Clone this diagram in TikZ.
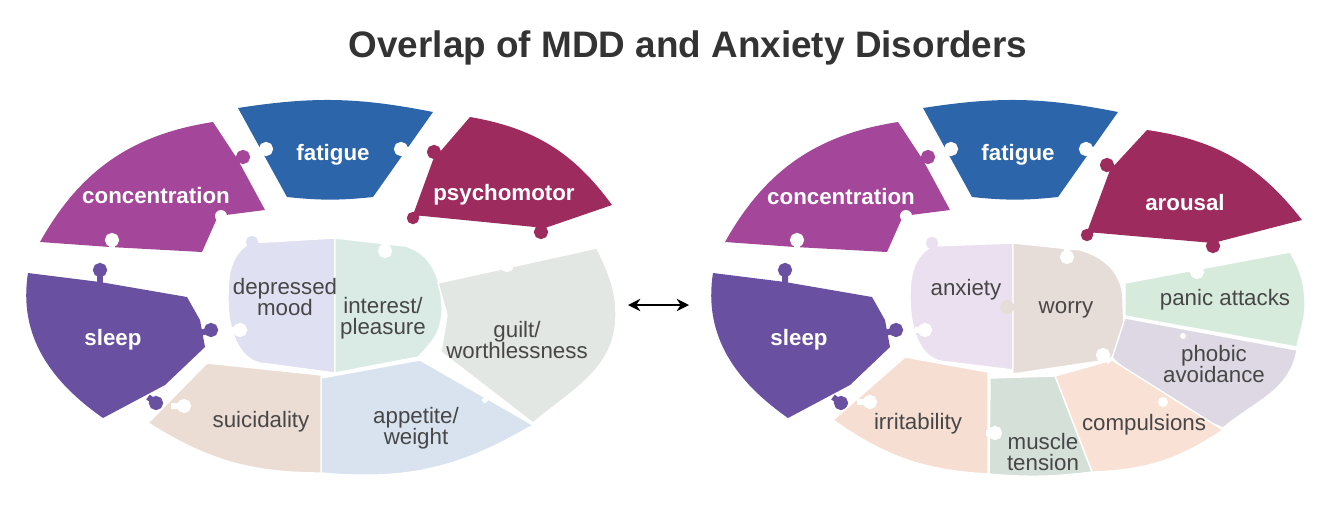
\documentclass[tikz,border=0pt]{standalone}
\usepackage{fontspec}
\setmainfont{Liberation Sans}
\usepackage{tikz}
\usetikzlibrary{arrows.meta}

\definecolor{conccol}{HTML}{A4479B}
\definecolor{fatcol}{HTML}{2C65A9}
\definecolor{psycol}{HTML}{9D2B5E}
\definecolor{sleepcol}{HTML}{6A50A1}
\definecolor{moodcol}{HTML}{DFE0F1}
\definecolor{intcol}{HTML}{DAEBE5}
\definecolor{guiltcol}{HTML}{E3E7E3}
\definecolor{suicol}{HTML}{EBDDD4}
\definecolor{appcol}{HTML}{D8E3EF}
\definecolor{anxcol}{HTML}{EBE0EF}
\definecolor{worrycol}{HTML}{E6DCD8}
\definecolor{paniccol}{HTML}{D7EBDD}
\definecolor{phobcol}{HTML}{DDD8E3}
\definecolor{irrcol}{HTML}{F6DED3}
\definecolor{musccol}{HTML}{D5E0D8}
\definecolor{compcol}{HTML}{F9E1D6}
\definecolor{labelgray}{HTML}{474747}
\definecolor{titlegray}{HTML}{333333}

\begin{document}
\begin{tikzpicture}[x=0.02cm, y=-0.02cm,
    outerlabel/.style={text=white, font=\fontsize{12.7}{13}\selectfont\bfseries},
    innerlabel/.style={text=labelgray, align=center, font=\fontsize{12.7}{12}\selectfont},
    innerpiece/.style={draw=white, line width=0.8pt},
    knob/.style={line width=3.4pt}]

    \useasboundingbox (0,0) rectangle (1334,515);

    % Title
    \node (title) at (688,48) [text=titlegray, font=\fontsize{21}{25}\selectfont\bfseries]
        {Overlap of MDD and Anxiety Disorders};

    % Outer pieces shared by both wheels
    \foreach \dx in {0,685} {
        \begin{scope}[shift={(\dx,0)}]
            \fill[conccol] (40,242) to[bend left=26] (213,122) -- (238,160) -- (265,210) -- (218,216) -- (202,252) -- (110,247) -- cycle;
            \fill[fatcol] (238,108) to[bend left=10] (433,112) -- (373,197) to[bend left=6] (287,197) -- cycle;
            \fill[sleepcol] (28,273) -- (100,282) -- (187,297) -- (200,320) -- (205,347) -- (165,385) -- (103,418) to[out=145, in=261] (28,273) -- cycle;
            % notches
            \fill[white] (221,216) circle[radius=6];
            \filldraw[white, knob] (112,250) -- (112,240) circle[radius=4];
            \filldraw[white, knob] (259,151) -- (266,149) circle[radius=4];
            \filldraw[white, knob] (410,150) -- (401,149) circle[radius=4];
            % tabs
            \filldraw[conccol, knob] (235,160) -- (243,157) circle[radius=4];
            \filldraw[sleepcol, knob] (100,285) -- (100,270) circle[radius=4];
            \filldraw[sleepcol, knob] (200,333) -- (211,330) circle[radius=4];
            \filldraw[sleepcol, knob] (148,397) -- (156,403) circle[radius=4];
        \end{scope}
    }

    % Left wheel: psychomotor
    \fill[psycol] (470,117) to[bend left=22] (612,205) -- (545,228) -- (413,215) -- (433,160) -- cycle;
    \filldraw[psycol, knob] (440,156) -- (434,152) circle[radius=4];
    \filldraw[psycol, knob] (418,213) -- (413,218) circle[radius=3];
    \filldraw[psycol, knob] (541,226) -- (541,232) circle[radius=4];

    % Left wheel: inner pieces
    \path[innerpiece, fill=moodcol] (335,238) -- (250,243) to[out=210, in=90] (228,300) to[out=270, in=180] (268,364) -- (335,373) -- cycle;
    \path[innerpiece, fill=intcol] (335,238) -- (405,246) to[out=-15, in=90] (442,310) to[out=-90, in=45] (418,357) -- (335,373) -- cycle;
    \path[innerpiece, fill=guiltcol] (438,283) -- (597,248) to[out=-65, in=90] (616,315) to[out=-90, in=40] (533,423) -- (441,352) -- (447,315) -- cycle;
    \path[innerpiece, fill=appcol] (321,378) -- (420,360) -- (533,425) to[bend left=18] (321,473) -- cycle;
    \path[innerpiece, fill=suicol] (148,423) -- (207,363) -- (321,375) -- (321,473) to[bend left=16] (148,423) -- cycle;
    \filldraw[moodcol, knob] (255,248) -- (252,242) circle[radius=3];
    \filldraw[white, knob] (231,330) -- (240,330) circle[radius=4];
    \filldraw[white, knob] (385,242) -- (385,251) circle[radius=4];
    \filldraw[white, knob] (507,256) -- (507,265) circle[radius=4];
    \filldraw[white, knob] (171,406) -- (184,406) circle[radius=4];
    \fill[white] (485,400) circle[radius=3];

    % Right wheel: arousal
    \fill[psycol] (1147,130) to[bend left=22] (1302,220) -- (1213,243) -- (1087,232) -- (1110,170) -- cycle;
    \filldraw[psycol, knob] (1114,169) -- (1107,165) circle[radius=4];
    \filldraw[psycol, knob] (1092,230) -- (1087,235) circle[radius=3];
    \filldraw[psycol, knob] (1213,240) -- (1213,246) circle[radius=4];

    % Right wheel: inner pieces
    \path[innerpiece, fill=anxcol] (1013,243) -- (932,246) to[out=210, in=90] (910,298) to[out=270, in=180] (948,362) -- (1013,370) -- cycle;
    \path[innerpiece, fill=worrycol] (1013,243) -- (1080,250) to[out=-15, in=90] (1123,300) to[out=-90, in=25] (1107,360) -- (1013,374) -- cycle;
    \path[innerpiece, fill=paniccol] (1125,283) -- (1290,252) to[out=-60, in=90] (1305,305) to[out=-90, in=80] (1297,347) -- (1125,316) -- cycle;
    \path[innerpiece, fill=phobcol] (1125,318) -- (1297,350) to[out=-100, in=40] (1223,428) -- (1163,402) -- (1112,358) -- cycle;
    \path[innerpiece, fill=compcol] (1055,376) -- (1112,360) -- (1223,430) to[bend left=16] (1092,472) -- cycle;
    \path[innerpiece, fill=musccol] (990,378) -- (1055,376) -- (1092,472) to[bend left=6] (989,474) -- cycle;
    \path[innerpiece, fill=irrcol] (833,420) -- (905,357) -- (988,372) -- (988,474) to[bend left=16] (833,420) -- cycle;
    \filldraw[anxcol, knob] (936,250) -- (932,243) circle[radius=3];
    \filldraw[white, knob] (915,330) -- (925,330) circle[radius=4];
    \filldraw[worrycol, knob] (1016,307) -- (1007,307) circle[radius=4];
    \filldraw[white, knob] (1067,248) -- (1067,257) circle[radius=4];
    \filldraw[white, knob] (1110,362) -- (1103,355) circle[radius=4];
    \filldraw[white, knob] (1197,265) -- (1197,272) circle[radius=4];
    \fill[white] (1183,336) circle[radius=3];
    \fill[white] (1163,402) circle[radius=5];
    \filldraw[white, knob] (986,433) -- (995,433) circle[radius=4];
    \filldraw[white, knob] (857,402) -- (870,402) circle[radius=4];

    % Labels, left wheel
    \node (concL) at (156,196) [outerlabel] {concentration};
    \node (fatL) at (333,155) [outerlabel] {fatigue};
    \node (psyL) at (504,195) [outerlabel] {psychomotor};
    \node (sleepL) at (113,340) [outerlabel] {sleep};
    \node (moodL) at (285,297) [innerlabel] {depressed\\mood};
    \node (intL) at (383,318) [innerlabel] {interest/\\pleasure};
    \node (guiltL) at (517,340) [innerlabel] {guilt/\\worthlessness};
    \node (suiL) at (261,422) [innerlabel] {suicidality};
    \node (appL) at (416,428) [innerlabel] {appetite/\\weight};

    % Labels, right wheel
    \node (concR) at (841,197) [outerlabel] {concentration};
    \node (fatR) at (1018,155) [outerlabel] {fatigue};
    \node (arouR) at (1185,203) [outerlabel] {arousal};
    \node (sleepR) at (799,340) [outerlabel] {sleep};
    \node (anxR) at (966,290) [innerlabel] {anxiety};
    \node (worryR) at (1066,310) [innerlabel] {worry};
    \node (panicR) at (1225,300) [innerlabel] {panic attacks};
    \node (phobR) at (1214,364) [innerlabel] {phobic\\avoidance};
    \node (irrR) at (918,424) [innerlabel] {irritability};
    \node (compR) at (1144,425) [innerlabel] {compulsions};
    \node (muscR) at (1043,452) [innerlabel] {muscle\\tension};

    % Double arrow between the wheels
    \coordinate (arrL) at (628,305);
    \coordinate (arrR) at (689,305);
    \draw[{Stealth[length=7pt, width=7pt]}-{Stealth[length=7pt, width=7pt]}, line width=1.1pt] (arrL) -- (arrR);
\end{tikzpicture}
\end{document}
